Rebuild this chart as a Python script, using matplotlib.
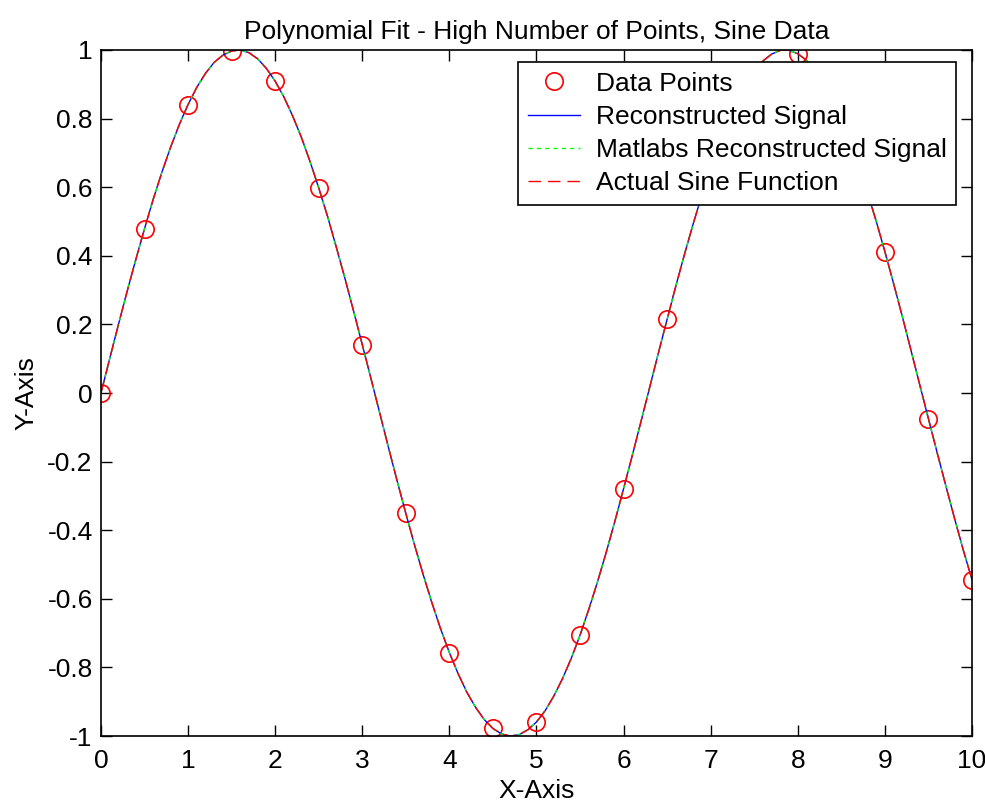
import matplotlib
matplotlib.use("Agg")
import matplotlib.pyplot as plt

x_pts = [0, 0.5, 1, 1.5, 2, 2.5, 3, 3.5, 4, 4.5, 5, 5.5, 6, 6.5, 7, 7.5, 8, 8.5, 9, 9.5, 10]
y_pts = [0, 0.479, 0.841, 0.997, 0.909, 0.598, 0.141, -0.351, -0.757, -0.978, -0.959,
         -0.706, -0.279, 0.215, 0.657, 0.938, 0.989, 0.798, 0.412, -0.075, -0.544]

# curve values read at 0.1 steps (the three curves lie on top of each other)
x_curve = [i / 10 for i in range(101)]
y_recon = [0.000, 0.100, 0.199, 0.296, 0.389, 0.479, 0.565, 0.644, 0.717, 0.783,
           0.841, 0.891, 0.932, 0.964, 0.985, 0.997, 1.000, 0.992, 0.974, 0.946,
           0.909, 0.863, 0.808, 0.746, 0.675, 0.598, 0.516, 0.427, 0.335, 0.239,
           0.141, 0.042, -0.058, -0.158, -0.256, -0.351, -0.443, -0.530, -0.612, -0.688,
           -0.757, -0.818, -0.872, -0.916, -0.952, -0.978, -0.994, -1.000, -0.996, -0.982,
           -0.959, -0.926, -0.883, -0.832, -0.773, -0.706, -0.631, -0.551, -0.465, -0.374,
           -0.279, -0.182, -0.083, 0.017, 0.117, 0.215, 0.312, 0.405, 0.494, 0.578,
           0.657, 0.729, 0.794, 0.850, 0.899, 0.938, 0.968, 0.988, 0.999, 0.999,
           0.989, 0.970, 0.941, 0.902, 0.855, 0.798, 0.734, 0.662, 0.584, 0.501,
           0.412, 0.319, 0.223, 0.124, 0.024, -0.075, -0.174, -0.271, -0.366, -0.458,
           -0.544]
y_matlab = list(y_recon)
y_actual = list(y_recon)

x_ticks = list(range(0, 11))
y_ticks = [-1, -0.8, -0.6, -0.4, -0.2, 0, 0.2, 0.4, 0.6, 0.8, 1]
y_ticklabels = ["-1", "-0.8", "-0.6", "-0.4", "-0.2", "0", "0.2", "0.4", "0.6", "0.8", "1"]

plt.rcParams["font.family"] = ["Liberation Sans", "DejaVu Sans"]
plt.rcParams["font.size"] = 19

fig = plt.figure(figsize=(9.85, 8.06), dpi=100)
ax = fig.add_axes([0.1025, 0.0868, 0.8843, 0.8512])

ax.plot(x_pts, y_pts, "o", color="red", markerfacecolor="none", markersize=12.5,
        markeredgewidth=1.2, label="Data Points")
ax.plot(x_curve, y_recon, "-", color="blue", linewidth=1.0, label="Reconstructed Signal")
ax.plot(x_curve, y_matlab, color="#00ff00", linewidth=1.0, linestyle=(0, (3, 3)),
        label="Matlabs Reconstructed Signal")
ax.plot(x_curve, y_actual, color="red", linewidth=1.0, linestyle=(0, (9, 5)),
        label="Actual Sine Function")

ax.set_xlim(0, 10)
ax.set_ylim(-1, 1)
ax.set_xticks(x_ticks)
ax.set_yticks(y_ticks)
ax.set_yticklabels(y_ticklabels)
ax.tick_params(direction="in", length=8, width=1, top=True, right=True, pad=6)
ax.tick_params(axis="x", pad=9)
for s in ax.spines.values():
    s.set_linewidth(1.2)

ax.set_title("Polynomial Fit - High Number of Points, Sine Data", fontsize=19, pad=8)
ax.set_xlabel("X-Axis", labelpad=5)
ax.set_ylabel("Y-Axis", labelpad=6)

leg = ax.legend(loc="upper right", bbox_to_anchor=(0.982, 0.982), fancybox=False,
                edgecolor="black", framealpha=1, handlelength=2.0, borderpad=0.35,
                labelspacing=0.35, handletextpad=0.6, borderaxespad=0)
leg.get_frame().set_linewidth(1.2)

fig.savefig("out.png", dpi=100)
